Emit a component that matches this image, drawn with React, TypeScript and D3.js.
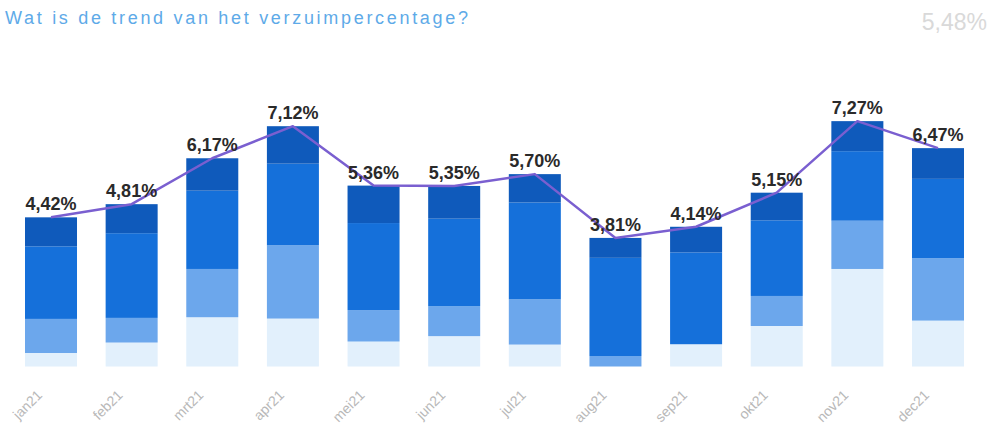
import React from "react";
import * as d3 from "d3";

const months = ["jan21", "feb21", "mrt21", "apr21", "mei21", "jun21", "jul21", "aug21", "sep21", "okt21", "nov21", "dec21"];
const totals = [4.42, 4.81, 6.17, 7.12, 5.36, 5.35, 5.70, 3.81, 4.14, 5.15, 7.27, 6.47];
// stacked segments, bottom to top
const segVeryLight = [0.40, 0.71, 1.46, 1.42, 0.74, 0.90, 0.65, 0.00, 0.66, 1.20, 2.89, 1.36];
const segLight = [1.01, 0.73, 1.43, 2.17, 0.93, 0.89, 1.34, 0.31, 0.00, 0.89, 1.43, 1.85];
const segMid = [2.15, 2.51, 2.32, 2.42, 2.58, 2.59, 2.87, 2.91, 2.72, 2.24, 2.06, 2.35];
const segDark = [0.86, 0.86, 0.96, 1.11, 1.11, 0.97, 0.84, 0.59, 0.76, 0.82, 0.89, 0.91];

const title = "Wat is de trend van het verzuimpercentage?";
const overall = "5,48%";

const W = 993;
const H = 427;

const segKeys = ["vlight", "light", "mid", "dark"];
const segColors: Record<string, string> = {
  vlight: "#e2f0fc",
  light: "#6ca7ec",
  mid: "#1570da",
  dark: "#0f5abb",
};

const fmt = (v: number) => v.toFixed(2).replace(".", ",") + "%";

export default function App() {
  const x = d3.scaleBand<string>().domain(months).range([10, 979]).paddingInner(0.355).paddingOuter(0.186);
  const y = d3.scaleLinear().domain([0, 8]).range([366.5, 366.5 - 8 * 33.75]);

  const rows = months.map((m, i) => ({
    month: m,
    vlight: segVeryLight[i],
    light: segLight[i],
    mid: segMid[i],
    dark: segDark[i],
  }));
  const stack = d3.stack<any>().keys(segKeys)(rows);

  const line = d3
    .line<number>()
    .x((_, i) => (x(months[i]) as number) + x.bandwidth() / 2)
    .y((d) => y(d))
    .curve(d3.curveLinear);

  const font = "'Liberation Sans', Arial, sans-serif";

  return (
    <svg width={W} height={H} style={{ position: "absolute", left: 0, top: 0, background: "#fff" }} fontFamily={font}>
      <text x={5} y={24} fontSize={18} fill="#5eaae8" textLength={463} lengthAdjust="spacing">
        {title}
      </text>
      <text x={987} y={30} fontSize={23} fill="#d9d9d9" textAnchor="end">
        {overall}
      </text>

      {stack.map((layer) => (
        <g key={layer.key} fill={segColors[layer.key]}>
          {layer.map((d, i) => {
            const h = y(d[0]) - y(d[1]);
            if (h <= 0) return null;
            return (
              <rect
                key={months[i]}
                x={x(months[i])}
                y={y(d[1])}
                width={x.bandwidth()}
                height={h}
              />
            );
          })}
        </g>
      ))}

      <path d={line(totals) || ""} fill="none" stroke="#7a5fd0" strokeWidth={2.5} strokeLinejoin="round" />

      {totals.map((v, i) => (
        <text
          key={months[i]}
          x={(x(months[i]) as number) + x.bandwidth() / 2}
          y={y(v) - 7}
          textAnchor="middle"
          fontSize={18}
          fontWeight="bold"
          fill="#2a2a2a"
        >
          {fmt(v)}
        </text>
      ))}

      {months.map((m) => {
        const cx = (x(m) as number) + x.bandwidth() / 2;
        return (
          <text
            key={m}
            transform={`translate(${cx - 8},${396}) rotate(-45)`}
            textAnchor="end"
            fontSize={14}
            fill="#b8b8b8"
          >
            {m}
          </text>
        );
      })}
    </svg>
  );
}
